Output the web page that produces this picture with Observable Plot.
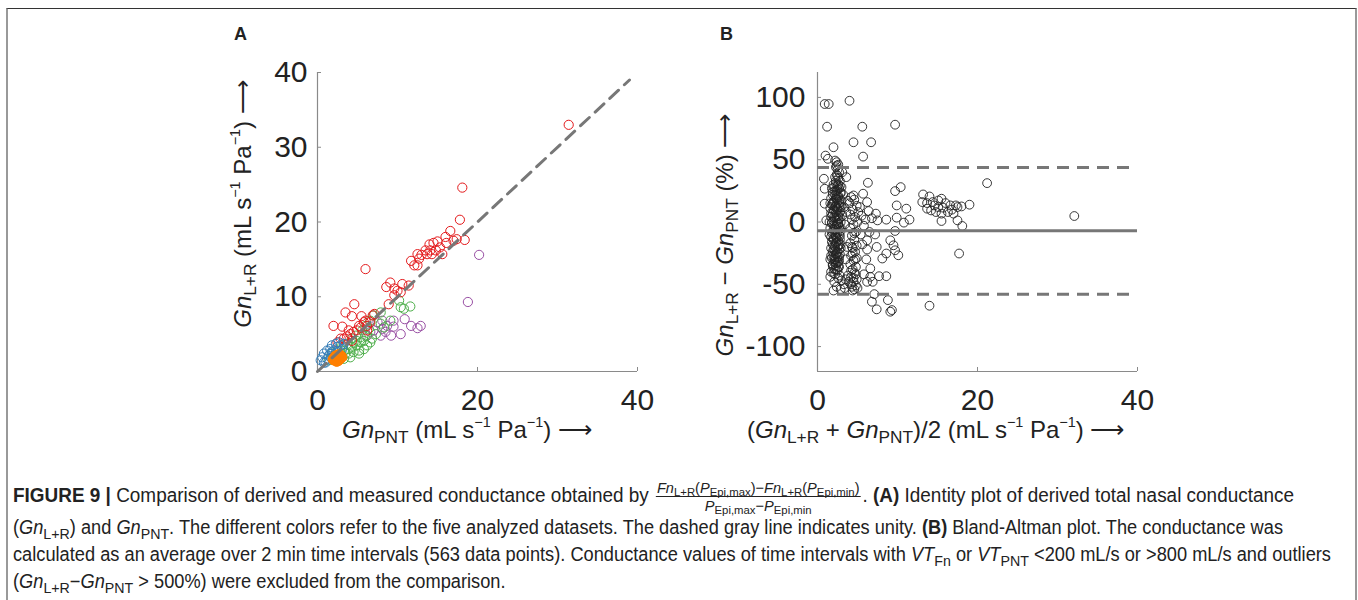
<!DOCTYPE html>
<html>
<head>
<meta charset="utf-8">
<script src="https://cdn.jsdelivr.net/npm/d3@7"></script>
<script src="https://cdn.jsdelivr.net/npm/@observablehq/plot@0.6"></script>
<style>
  body { margin: 0; background: #fff; }
  #fig { position: relative; width: 1358px; height: 600px; overflow: hidden; font-family: "Liberation Sans", Arial, sans-serif; color: #222; }
  .frame { position: absolute; left: 6px; top: 8px; width: 1347px; height: 620px; border-top: 1.5px solid #333; border-left: 2px solid #999; border-right: 2px solid #999; }
  .plab { position: absolute; font-weight: bold; font-size: 18px; }
  .ax { position: absolute; font-size: 24px; white-space: nowrap; color: #222; }
  .ax i { font-style: italic; }
  .ax sub { font-size: 0.72em; vertical-align: -0.3em; line-height: 0; }
  .ax sup { font-size: 0.6em; vertical-align: 0.75em; line-height: 0; }
  .cap { position: absolute; left: 13px; font-family: "Liberation Sans", sans-serif; font-size: 19.5px; white-space: nowrap; line-height: 27px; color: #222; transform-origin: 0 50%; }
  .cap sub { font-size: 0.78em; vertical-align: -0.3em; line-height: 0; }
  .frac { display: inline-block; vertical-align: middle; text-align: center; font-size: 15px; line-height: 15px; margin: 0 2px; }
  .frac .num { border-bottom: 1px solid #222; padding: 0 1px 1px 1px; display: block; }
  .frac .den { display: block; padding-top: 1px; }
  .frac sub { font-size: 0.78em; vertical-align: -0.25em; line-height: 0; }
</style>
</head>
<body>
<div id="fig">
  <div class="frame"></div>
  <div class="plab" style="left:234px;top:24px;">A</div>
  <div class="plab" style="left:720px;top:24px;">B</div>
  <div id="plotA" style="position:absolute;left:200px;top:20px;"></div>
  <div id="plotB" style="position:absolute;left:700px;top:20px;"></div>

  <div class="ax" id="xlabA" style="left:342px;top:416px;"><i>Gn</i><sub>PNT</sub> (mL s<sup>−1</sup> Pa<sup>−1</sup>) ⟶</div>
  <div class="ax" id="ylabA" style="left:243px;top:204px;transform:translate(-50%,-50%) rotate(-90deg);"><i>Gn</i><sub>L+R</sub> (mL s<sup>−1</sup> Pa<sup>−1</sup>) ⟶</div>
  <div class="ax" id="xlabB" style="left:747px;top:416px;">(<i>Gn</i><sub>L+R</sub> + <i>Gn</i><sub>PNT</sub>)/2 (mL s<sup>−1</sup> Pa<sup>−1</sup>) ⟶</div>
  <div class="ax" id="ylabB" style="left:725px;top:235px;transform:translate(-50%,-50%) rotate(-90deg);"><i>Gn</i><sub>L+R</sub> − <i>Gn</i><sub>PNT</sub> (%) ⟶</div>

  <div class="cap" id="cap1" style="top:480px;"><b>FIGURE 9 |</b> Comparison of derived and measured conductance obtained by <span class="frac"><span class="num"><i>Fn</i><sub>L+R</sub>(<i>P</i><sub>Epi,max</sub>)−<i>Fn</i><sub>L+R</sub>(<i>P</i><sub>Epi,min</sub>)</span><span class="den"><i>P</i><sub>Epi,max</sub>−<i>P</i><sub>Epi,min</sub></span></span>. <b>(A)</b> Identity plot of derived total nasal conductance</div>
  <div class="cap" id="cap2" style="top:514px;">(<i>Gn</i><sub>L+R</sub>) and <i>Gn</i><sub>PNT</sub>. The different colors refer to the five analyzed datasets. The dashed gray line indicates unity. <b>(B)</b> Bland-Altman plot. The conductance was</div>
  <div class="cap" id="cap3" style="top:541px;">calculated as an average over 2 min time intervals (563 data points). Conductance values of time intervals with <i>VT</i><sub>Fn</sub> or <i>VT</i><sub>PNT</sub> &lt;200 mL/s or &gt;800 mL/s and outliers</div>
  <div class="cap" id="cap4" style="top:568px;">(<i>Gn</i><sub>L+R</sub>−<i>Gn</i><sub>PNT</sub> &gt; 500%) were excluded from the comparison.</div>
</div>
<script>
// ---------- Panel A data: [GnPNT, GnL+R] per dataset ----------
const redA = [[31.4,33.0],[18.1,24.6],[17.8,20.3],[18.4,17.6],[17.4,17.7],[16.6,18.8],[16.0,18.0],[16.1,17.2],[15.6,15.7],[15.0,17.4],[14.5,17.2],[14.0,17.0],[14.1,16.2],[13.5,16.2],[13.0,15.6],[12.7,15.1],[12.5,15.7],[11.7,14.8],[12.1,14.2],[12.5,14.2],[13.7,15.7],[14.3,15.7],[14.8,16.2],[15.3,16.6],[17.0,17.5],[11.4,11.5],[10.6,11.7],[10.4,10.6],[10.0,10.8],[9.6,10.2],[9.6,11.1],[9.1,11.9],[8.6,11.3],[8.9,9.0],[6.0,13.7],[4.6,9.0],[3.5,7.9],[4.3,7.4],[2.0,6.1],[3.1,6.0],[5.5,7.4],[6.0,6.8],[6.9,7.5],[7.1,7.7],[5.8,6.6],[5.4,5.9],[4.9,5.5],[4.5,5.3],[4.1,5.0],[3.7,4.7],[3.3,4.4],[2.9,4.4],[3.9,5.5],[5.2,6.1],[6.2,6.1],[6.6,6.6],[6.2,5.5],[2.5,3.9],[4.3,4.1]];
const greenA = [[10.4,8.6],[11.6,8.7],[10.8,8.4],[10.2,9.5],[7.9,7.9],[7.0,7.5],[6.6,6.8],[6.0,6.1],[5.6,5.5],[6.0,4.8],[5.4,4.6],[4.9,4.1],[4.5,3.9],[4.9,3.5],[4.3,3.3],[3.9,3.0],[3.3,2.8],[2.9,2.4],[2.5,1.9],[2.0,1.7],[3.3,1.7],[3.9,2.4],[4.5,2.6],[5.2,2.8],[5.8,3.0],[6.2,3.5],[6.6,3.9],[5.4,3.9],[4.8,4.8],[4.3,4.4],[3.7,3.7],[3.1,3.5],[2.5,2.8],[1.8,2.4],[1.4,1.5],[7.3,5.0],[6.8,4.4],[8.3,5.9],[7.9,6.4],[9.1,6.8],[6.4,5.7],[5.2,2.4],[4.1,1.9],[5.8,4.1],[3.5,2.4]];
const purpleA = [[20.2,15.6],[18.8,9.3],[12.9,6.1],[12.5,5.8],[11.7,6.1],[10.9,7.0],[10.4,5.0],[9.5,6.0],[9.2,4.8],[8.5,5.3],[8.1,5.7],[7.9,4.8],[8.7,6.1],[9.5,6.8],[7.0,5.5],[7.5,6.6],[6.6,5.3],[6.2,4.8],[8.1,6.8]];
const blueA = [[0.4,1.5],[0.6,1.9],[0.8,2.4],[1.0,1.2],[1.2,2.8],[1.4,2.1],[1.6,3.0],[1.8,3.5],[2.0,2.8],[2.3,3.7],[2.5,3.3],[2.7,3.9],[2.9,3.5],[3.1,3.0],[1.6,2.4],[1.2,1.7],[2.0,2.1],[2.5,2.6],[0.8,1.2],[1.8,2.6],[3.3,3.7]];
const orangeA = [[2.0,1.5],[2.2,1.7],[2.4,1.9],[2.6,1.8],[2.8,2.0],[3.0,2.1],[2.3,1.4],[2.5,1.6],[2.7,1.5],[2.9,1.7],[2.1,1.9],[2.4,2.2],[2.6,2.3],[2.2,2.1],[2.0,1.8],[1.9,1.6],[3.1,1.9],[2.8,2.3],[2.5,2.0],[2.3,1.6],[2.7,1.8],[2.6,1.4],[2.4,1.3],[2.1,1.5]];
const identityA = [0, 39];

// ---------- Panel B data: [mean Gn, difference %] ----------
const pointsB = [
[0.9,94.7],[1.4,94.7],[4.0,97.3],[1.2,76.5],[5.6,76.5],[9.7,78.1],[4.5,64.0],[6.7,64.0],[2.0,60.0],[5.7,52.5],[1.0,53.3],[1.3,50.7],[2.2,49.3],[2.4,45.3],
[0.8,34.7],[0.9,26.7],[0.9,14.7],[1.1,1.3],[3.6,36.0],[6.3,31.5],[9.7,24.8],[10.4,28.0],[4.5,21.3],[5.7,22.7],[6.2,16.0],[6.4,8.8],[7.3,6.7],[7.5,1.3],[8.6,1.9],[9.9,13.3],[9.9,3.5],[10.8,-0.5],[11.1,10.7],[11.5,1.9],[9.7,-7.2],[6.2,-14.7],[6.2,-22.1],[7.4,-20.0],[8.1,-29.3],[8.6,-25.3],[9.5,-18.7],[9.7,-22.7],[10.1,-26.7],[9.1,-14.7],[6.6,-37.3],[6.6,-44.0],[7.7,-43.5],[8.6,-43.5],[6.2,-48.0],[6.9,-48.0],[7.1,-57.9],[6.8,-64.0],[7.4,-70.1],[8.8,-62.7],[9.3,-70.7],[9.1,-72.0],[14.0,-67.2],[17.7,-25.3],[21.2,31.2],[32.1,4.8],
[13.2,22.1],[14.0,20.5],[13.1,16.0],[13.7,15.2],[14.4,16.0],[15.1,17.3],[15.5,18.7],[16.0,15.2],[16.6,13.3],[17.3,13.3],[18.0,12.5],[19.0,13.9],[14.2,9.3],[14.8,8.0],[15.5,6.7],[16.3,8.0],[16.8,9.9],[17.5,12.0],[15.5,0.8],[17.5,1.3],[18.1,-3.2],[13.7,10.7],[15.1,12.0],[15.7,11.5],[17.0,6.7],[14.6,13.3],
[2.4,48],[2.6,46],[2.3,44],[2.5,42],[2.7,40],[2.4,38],[2.2,36],[2.6,35],[2.8,33],[2.3,31],[2.5,29],[2.1,28],[2.7,27],[2.4,25],[1.9,24],[2.9,23],[2.2,22],[2.6,20],[1.7,19],[2.4,18],[3.0,17],[2.0,16],[2.7,15],[1.8,14],[2.3,13],[2.9,12],[1.6,11],[2.5,10],[2.1,9],[2.8,8],[1.9,7],[2.4,6],[3.1,5],[1.7,4],[2.2,3],[2.6,2],[2.0,1],[2.9,0],[1.8,-1],[2.4,-2],[2.1,-3],[2.7,-4],[1.6,-5],[2.3,-6],[2.9,-7],[1.9,-8],[2.5,-9],[2.2,-10],[2.8,-11],[1.7,-12],[2.4,-13],[2.0,-14],[2.6,-15],[1.8,-16],[2.3,-17],[2.9,-18],[2.1,-19],[2.5,-20],[1.7,-21],[2.7,-22],[2.2,-23],[1.9,-24],[2.4,-25],[2.8,-26],[2.0,-27],[2.5,-28],[1.8,-29],[2.3,-30],[2.7,-31],[2.1,-32],[2.5,-33],[1.9,-34],[2.3,-35],[2.6,-36],[2.0,-37],[1.7,-40],[2.2,-42],[1.6,-44],[2.6,-45],[3.0,-47],[2.1,-48],[3.3,-50],[2.4,-52],[2.9,-54],[2.0,-55],[3.5,-46],[3.8,-43],[3.4,-53],
[2.5,37],[2.3,33],[2.6,30],[2.4,21],[2.2,12],[2.6,-1],[2.3,-12],[2.7,-18],[2.2,-28],[2.4,-38],[1.5,0],[1.5,-10],[1.6,15],[1.6,-30],
[2.0,30],[2.8,29],[1.8,27],[2.5,26],[2.2,25],[2.9,24],[1.9,22],[2.6,21],[2.3,19],[2.8,18],[2.1,17],[2.5,16],[1.9,15],[2.7,13],[2.4,11],[2.0,10],[2.9,9],[2.3,8],[1.7,7],[2.6,5],[2.1,4],[2.8,3],[2.4,1],[1.8,0],[2.6,-2],[2.2,-4],[2.9,-5],[2.0,-6],[2.5,-7],[1.8,-9],[2.7,-10],[2.3,-11],[2.0,-13],[2.8,-14],[2.4,-16],[1.9,-18],[2.6,-19],[2.2,-20],[2.9,-21],[2.0,-22],[2.5,-24],[2.3,-26],[1.7,-27],[2.7,-28],[2.1,-30],[2.6,-32],[2.3,-33],[1.9,-35],[2.7,-36],[2.2,-38],[2.5,-39],[2.0,-41],[2.8,-43],
[4.2,20],[4.6,18],[4.0,15],[4.9,13],[4.4,10],[5.1,8],[4.1,6],[4.7,4],[4.3,2],[5.0,0],[4.5,-2],[4.1,-5],[4.8,-8],[4.3,-11],[4.6,-14],[4.1,-17],[4.9,-19],[4.4,-21],[4.7,-24],[4.2,-27],[4.9,-29],[4.5,-31],[4.1,-34],[4.8,-36],[4.4,-38],[4.6,-41],[4.2,-44],[4.9,-46],[4.5,-48],[4.8,-51],[4.3,-52],[4.6,-54],[5.0,-53],[4.4,-55],
[4.3,-20],[4.7,-30],[4.5,-45],[4.2,-50],[4.8,-42],[4.4,-25],[4.6,-9],[4.2,-39],
[3.3,12],[3.6,8],[3.4,-2],[3.2,22],[3.8,17],[5.5,5],[5.8,-3],[5.4,-10],[6.0,2],[6.5,-8],[5.3,12],[3.7,-20],[3.5,-30],[5.6,-18],[6.1,-30],[5.8,-42],[3.9,-48],[6.8,3],[7.2,-10],[3.1,40],[3.0,28]
];
const meanDiffB = -7.1;
const limitsB = [43.8, -57.9];

// ---------- Axes ----------
const xTicksA = [0, 20, 40];
const yTicksA = [0, 10, 20, 30, 40];
const xTicksB = [0, 20, 40];
const yTicksB = [-100, -50, 0, 50, 100];
const xDomainA = [0, 40], yDomainA = [0, 40];
const xDomainB = [0, 40], yDomainB = [-120, 120];

const setColors = {red: "#e41a1c", green: "#4daf4a", purple: "#984ea3", blue: "#377eb8", orange: "#ff7f00"};
const axisGray = "#8a8a8a";
const common = {
  width: 460, height: 420,
  marginLeft: 117, marginRight: 23, marginTop: 52, marginBottom: 69,
  style: {fontFamily: "'Liberation Sans', Arial, sans-serif", color: "#222", overflow: "visible", background: "transparent"}
};
const axisOpts = {tickSize: -4, fontSize: 30, stroke: axisGray, fill: "#222", label: null};
const px = d => d[0], py = d => d[1];

const plotA = Plot.plot({
  ...common,
  x: {domain: xDomainA, axis: null},
  y: {domain: yDomainA, axis: null},
  marks: [
    Plot.ruleX([xDomainA[0]], {stroke: axisGray, strokeWidth: 1.2}),
    Plot.ruleY([yDomainA[0]], {stroke: axisGray, strokeWidth: 1.2}),
    Plot.axisX(xTicksA, {...axisOpts, anchor: "bottom", tickPadding: 21}),
    Plot.axisY(yTicksA, {...axisOpts, anchor: "left", tickPadding: 14}),
    Plot.dot(purpleA, {x: px, y: py, r: 4.6, stroke: setColors.purple, strokeWidth: 1, fill: "none"}),
    Plot.dot(greenA, {x: px, y: py, r: 4.6, stroke: setColors.green, strokeWidth: 1, fill: "none"}),
    Plot.dot(redA, {x: px, y: py, r: 4.6, stroke: setColors.red, strokeWidth: 1, fill: "none"}),
    Plot.dot(blueA, {x: px, y: py, r: 4.6, stroke: setColors.blue, strokeWidth: 1, fill: "none"}),
    Plot.dot(orangeA, {x: px, y: py, r: 4.6, stroke: setColors.orange, strokeWidth: 1, fill: setColors.orange}),
    Plot.line(identityA, {x: d => d, y: d => d, stroke: "#777", strokeWidth: 3, strokeDasharray: "12,8"})
  ]
});
document.getElementById("plotA").appendChild(plotA);

const plotB = Plot.plot({
  ...common,
  x: {domain: xDomainB, axis: null},
  y: {domain: yDomainB, axis: null},
  marks: [
    Plot.ruleX([xDomainB[0]], {stroke: axisGray, strokeWidth: 1.2}),
    Plot.ruleY([yDomainB[0]], {stroke: axisGray, strokeWidth: 1.2}),
    Plot.axisX(xTicksB, {...axisOpts, anchor: "bottom", tickPadding: 21}),
    Plot.axisY(yTicksB, {...axisOpts, anchor: "left", tickPadding: 16, tickFormat: d => String(d)}),
    Plot.dot(pointsB, {x: px, y: py, r: 4.4, stroke: "#222", strokeWidth: 0.9, fill: "none"}),
    Plot.ruleY([meanDiffB], {stroke: "#777", strokeWidth: 3}),
    Plot.ruleY(limitsB, {stroke: "#777", strokeWidth: 3, strokeDasharray: "12,8"})
  ]
});
document.getElementById("plotB").appendChild(plotB);

// Caption lines: condense horizontally so their right ends fall where the reference's do
const capRight = {cap1: 1294, cap2: 1283, cap3: 1331};
const scales = [];
for (const id of ["cap1", "cap2", "cap3"]) {
  const el = document.getElementById(id);
  const w = el.getBoundingClientRect().width;
  const s = Math.min(1, (capRight[id] - 13) / w);
  scales.push(s);
  el.style.transform = `scaleX(${s})`;
}
document.getElementById("cap4").style.transform = `scaleX(${d3.mean(scales.slice(1))})`;
</script>
</body>
</html>
